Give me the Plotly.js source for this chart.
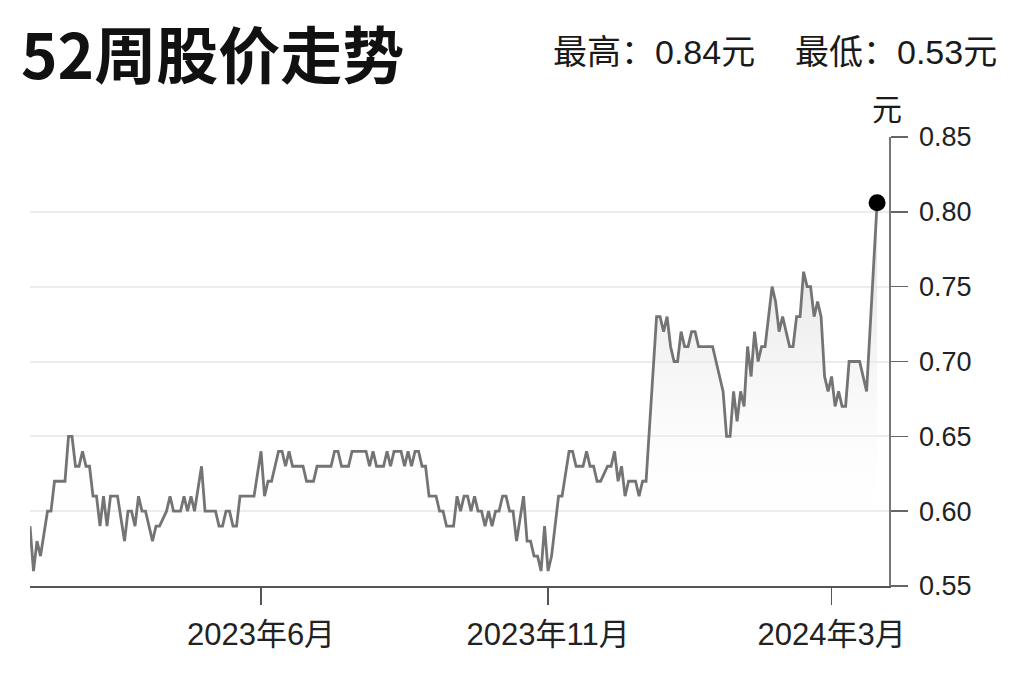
<!DOCTYPE html>
<html>
<head>
<meta charset="utf-8">
<script src="https://cdn.plot.ly/plotly-3.0.1.min.js"></script>
<style>
html,body{margin:0;padding:0;background:#fff;}
#chart{width:1024px;height:682px;}
</style>
</head>
<body>
<div id="chart"></div>
<script>
// trading-day index (0 = first day of the 52-week window)
const tradeDay = [0,1,2,3,5,6,7,10,11,12,13,14,15,16,17,18,19,20,21,22,23,25,27,28,29,30,31,32,33,35,36,37,39,40,41,43,44,45,46,47,49,50,53,54,55,56,57,58,59,60,64,66,67,68,69,71,72,73,74,75,78,79,81,82,86,87,88,89,91,92,96,97,98,99,101,102,103,104,106,107,108,109,110,111,112,113,114,116,117,118,119,121,122,123,124,125,126,127,128,129,130,131,132,133,134,135,136,137,138,139,141,142,143,144,145,146,147,148,149,151,152,154,155,156,158,159,160,161,162,163,165,166,167,168,169,170,171,173,174,175,176,179,180,181,182,183,184,185,186,187,188,189,190,191,195,196,198,199,200,201,202,203,204,205,206,207,208,209,210,212,213,214,215,216,217,218,219,220,221,222,223,224,225,226,227,228,229,230,231,232,233,234,237,239,240,242];
// closing price (元)
const closePrice = [0.59,0.56,0.58,0.57,0.60,0.60,0.62,0.62,0.65,0.65,0.63,0.63,0.64,0.63,0.63,0.61,0.61,0.59,0.61,0.59,0.61,0.61,0.58,0.60,0.60,0.59,0.61,0.60,0.60,0.58,0.59,0.59,0.60,0.61,0.60,0.60,0.61,0.60,0.61,0.60,0.63,0.60,0.60,0.59,0.59,0.60,0.60,0.59,0.59,0.61,0.61,0.64,0.61,0.62,0.62,0.64,0.64,0.63,0.64,0.63,0.63,0.62,0.62,0.63,0.63,0.64,0.64,0.63,0.63,0.64,0.64,0.63,0.64,0.63,0.63,0.64,0.63,0.64,0.64,0.63,0.64,0.63,0.64,0.64,0.63,0.63,0.61,0.61,0.60,0.60,0.59,0.59,0.61,0.60,0.61,0.61,0.60,0.61,0.60,0.60,0.59,0.60,0.59,0.60,0.60,0.61,0.61,0.60,0.60,0.58,0.61,0.58,0.58,0.57,0.57,0.56,0.59,0.56,0.57,0.61,0.61,0.64,0.64,0.63,0.63,0.64,0.63,0.63,0.62,0.62,0.63,0.63,0.64,0.62,0.63,0.61,0.62,0.62,0.61,0.62,0.62,0.73,0.73,0.72,0.73,0.71,0.70,0.70,0.72,0.71,0.71,0.72,0.72,0.71,0.71,0.70,0.68,0.65,0.65,0.68,0.66,0.68,0.67,0.71,0.69,0.72,0.70,0.71,0.71,0.75,0.74,0.72,0.73,0.72,0.71,0.71,0.73,0.73,0.76,0.75,0.75,0.73,0.74,0.73,0.69,0.68,0.69,0.67,0.68,0.67,0.67,0.70,0.70,0.68,0.72,0.806];

const tickDays = [66, 148, 229];
const tickLabels = ['2023年6月', '2023年11月', '2024年3月'];
const priceTicks = [0.55, 0.60, 0.65, 0.70, 0.75, 0.80, 0.85];
const titleText = '52周股价走势';
const highText = '最高：0.84元';
const lowText = '最低：0.53元';
const unitText = '元';

const lastDay = tradeDay[tradeDay.length - 1];
const lastPrice = closePrice[closePrice.length - 1];

const FONT = '"Noto Sans CJK SC", "Noto Sans", sans-serif';
const NUMFONT = '"Liberation Sans", "Noto Sans CJK SC", sans-serif';

const traces = [
  {
    x: tradeDay, y: closePrice, type: 'scatter', mode: 'lines',
    line: {color: '#747474', width: 2.8, shape: 'linear'},
    fill: 'tozeroy',
    fillgradient: {type: 'vertical', start: 0.58, stop: 0.80,
      colorscale: [[0, 'rgba(255,255,255,0)'], [1, 'rgba(215,215,215,0.85)']]},
    hoverinfo: 'skip', showlegend: false
  },
  {
    x: [lastDay], y: [lastPrice], type: 'scatter', mode: 'markers',
    marker: {color: '#000', size: 17}, showlegend: false, hoverinfo: 'skip'
  }
];

const layout = {
  width: 1024, height: 682,
  margin: {l: 30, r: 135, t: 137, b: 96},
  paper_bgcolor: '#fff', plot_bgcolor: '#fff',
  font: {family: FONT, color: '#1a1a1a'},
  showlegend: false,
  xaxis: {
    range: [0, 245.4], fixedrange: true,
    tickmode: 'array', tickvals: tickDays, ticktext: tickLabels,
    ticks: 'outside', ticklen: 17, tickwidth: 1.5, tickcolor: '#555',
    ticklabelstandoff: 3,
    tickfont: {size: 31, family: NUMFONT, color: '#222'},
    showline: true, linecolor: '#555', linewidth: 2,
    showgrid: false, zeroline: false
  },
  yaxis: {
    range: [0.55, 0.85], side: 'right', fixedrange: true,
    tickmode: 'array', tickvals: priceTicks,
    ticktext: priceTicks.map(v => v.toFixed(2)),
    ticks: 'outside', ticklen: 17, tickwidth: 1.5, tickcolor: '#666',
    ticklabelstandoff: 6,
    tickfont: {size: 27, family: NUMFONT, color: '#222'},
    showline: true, linecolor: '#777', linewidth: 1.5,
    showgrid: true, gridcolor: '#ececec', gridwidth: 2,
    zeroline: false
  },
  annotations: [
    {text: '<b>' + titleText + '</b>', xref: 'paper', yref: 'paper',
     x: -0.013, y: 1.189, xanchor: 'left', yanchor: 'middle', showarrow: false,
     font: {size: 62, family: FONT, color: '#111'}},
    {text: highText, xref: 'paper', yref: 'paper',
     x: 0.606, y: 1.189, xanchor: 'left', yanchor: 'middle', showarrow: false,
     font: {size: 34, family: NUMFONT, color: '#1a1a1a'}},
    {text: lowText, xref: 'paper', yref: 'paper',
     x: 1.128, y: 1.189, xanchor: 'right', yanchor: 'middle', showarrow: false,
     font: {size: 34, family: NUMFONT, color: '#1a1a1a'}},
    {text: unitText, xref: 'paper', yref: 'paper',
     x: 0.998, y: 1.066, xanchor: 'center', yanchor: 'middle', showarrow: false,
     font: {size: 30, family: FONT, color: '#1a1a1a'}}
  ]
};

Plotly.newPlot('chart', traces, layout, {displayModeBar: false, staticPlot: true});
</script>
</body>
</html>
